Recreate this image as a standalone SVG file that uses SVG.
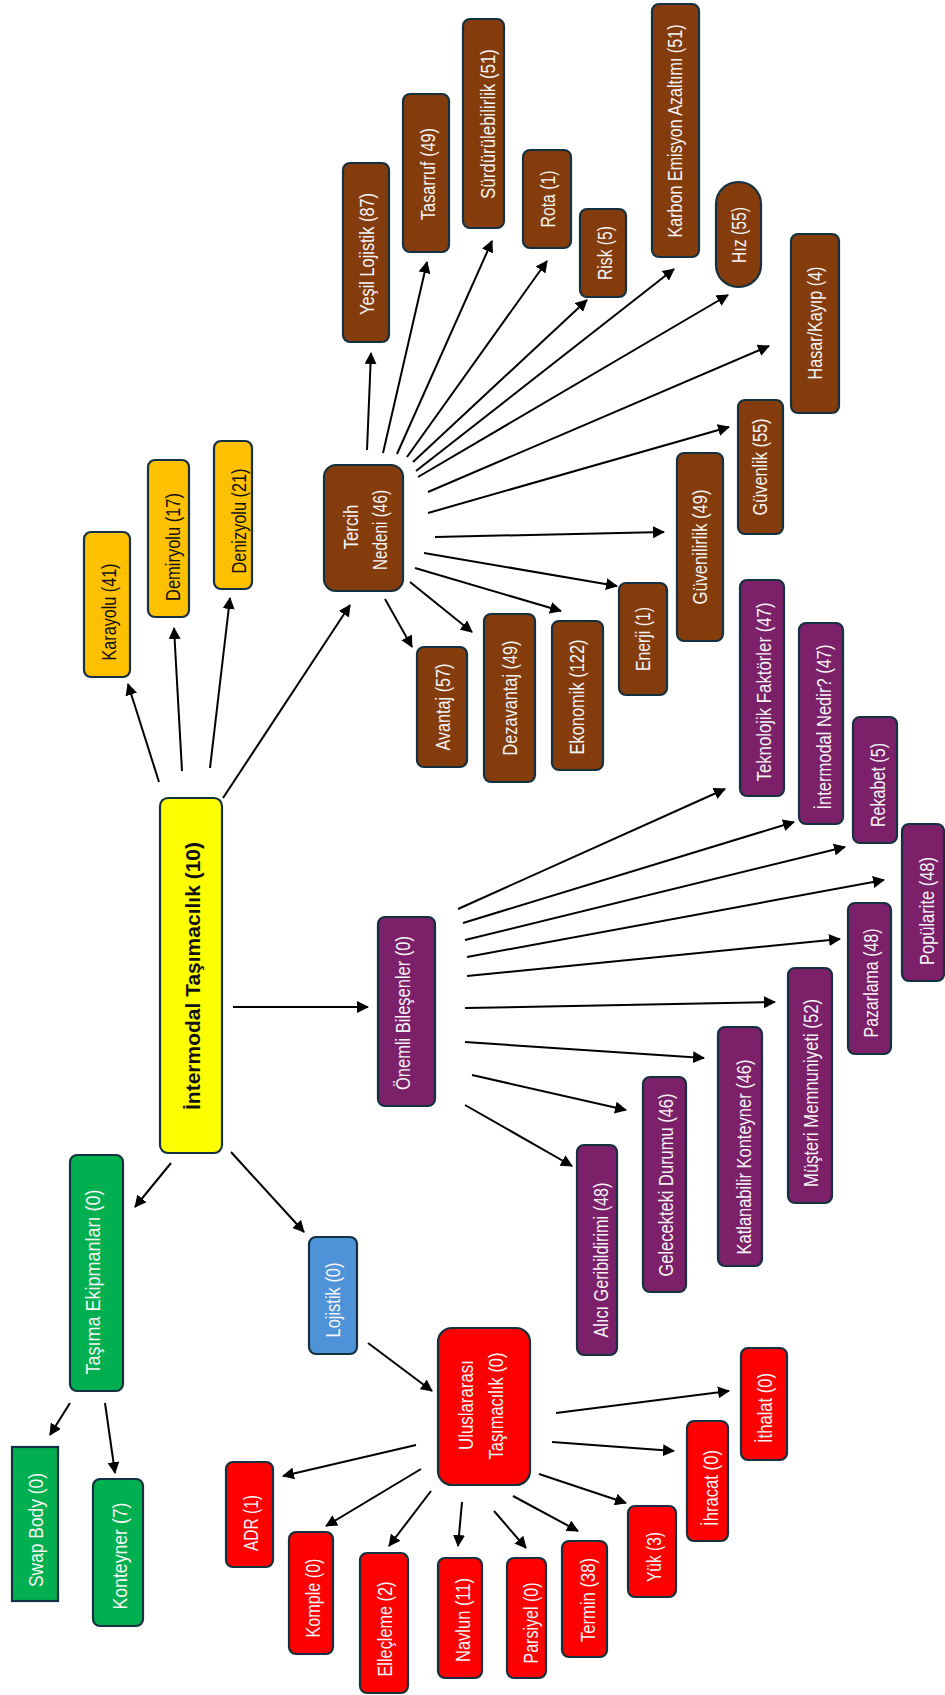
<svg xmlns="http://www.w3.org/2000/svg" width="945" height="1695" viewBox="0 0 945 1695">
<style>
rect{stroke:#15303e;stroke-width:2.2}
.b{fill:#843C0C}.p{fill:#7B2069}.o{fill:#FFC000}.r{fill:#FF0000}.g{fill:#00B050}.bl{fill:#4E93D7}.y{fill:#FFFF00}
text{font-family:"Liberation Sans Narrow","Arial Narrow","Liberation Sans",Arial,sans-serif;font-size:19.5px;text-anchor:middle}
.w{fill:#f4f4f4}.k{fill:#111}
.t{font-family:"Liberation Sans",Arial,sans-serif;font-weight:bold;font-size:21px;fill:#111}
#conn path{stroke:#000;stroke-width:2;fill:none;marker-end:url(#ah)}
</style>
<defs>
<marker id="ah" markerUnits="userSpaceOnUse" markerWidth="12" markerHeight="12" refX="11" refY="6" orient="auto">
<path d="M0,0 L12,6 L0,12 z" fill="#000"/>
</marker>
</defs>
<g id="conn">
<path d="M159,782 L128,684"/>
<path d="M182,771 L174,628"/>
<path d="M210,768 L230,598"/>
<path d="M223,798 L350,605"/>
<path d="M233,1007 L368,1007"/>
<path d="M171,1163 L135,1207"/>
<path d="M231,1152 L304,1232"/>
<path d="M367,450 L371,353"/>
<path d="M383,453 L427,262"/>
<path d="M397,454 L492,241"/>
<path d="M407,457 L547,261"/>
<path d="M413,462 L587,300"/>
<path d="M416,471 L674,269"/>
<path d="M418,477 L728,295"/>
<path d="M428,492 L769,346"/>
<path d="M428,513 L729,427"/>
<path d="M435,537 L664,532"/>
<path d="M424,553 L617,586"/>
<path d="M415,568 L561,611"/>
<path d="M410,582 L472,632"/>
<path d="M385,599 L412,647"/>
<path d="M458,909 L725,789"/>
<path d="M463,923 L794,822"/>
<path d="M465,940 L845,847"/>
<path d="M467,957 L884,880"/>
<path d="M467,976 L840,939"/>
<path d="M465,1008 L775,1002"/>
<path d="M465,1042 L704,1058"/>
<path d="M472,1075 L626,1110"/>
<path d="M465,1105 L572,1166"/>
<path d="M70,1403 L50,1435"/>
<path d="M105,1403 L115,1473"/>
<path d="M368,1343 L432,1391"/>
<path d="M416,1445 L283,1476"/>
<path d="M421,1469 L326,1526"/>
<path d="M431,1491 L389,1546"/>
<path d="M462,1502 L458,1546"/>
<path d="M494,1511 L526,1548"/>
<path d="M513,1496 L578,1531"/>
<path d="M539,1474 L626,1503"/>
<path d="M552,1442 L674,1451"/>
<path d="M556,1413 L729,1391"/>
</g>
<g id="main"><rect class="y" x="160" y="798" width="62" height="355" rx="8"/><text class="t" transform="translate(200,976) rotate(-90)" textLength="268" lengthAdjust="spacingAndGlyphs">İntermodal Taşımacılık (10)</text></g>
<g id="karayolu"><rect class="o" x="84" y="532" width="46" height="145" rx="7"/><text class="k" transform="translate(116,612) rotate(-90)" textLength="97" lengthAdjust="spacingAndGlyphs">Karayolu (41)</text></g>
<g id="demiryolu"><rect class="o" x="148" y="460" width="41" height="157" rx="7"/><text class="k" transform="translate(180,547) rotate(-90)" textLength="108" lengthAdjust="spacingAndGlyphs">Demiryolu (17)</text></g>
<g id="denizyolu"><rect class="o" x="214" y="441" width="38" height="148" rx="7"/><text class="k" transform="translate(246,521) rotate(-90)" textLength="105" lengthAdjust="spacingAndGlyphs">Denizyolu (21)</text></g>
<g id="tercih"><rect class="b" x="324" y="465" width="79" height="126" rx="12"/><text class="w" transform="translate(358,527) rotate(-90)" textLength="45" lengthAdjust="spacingAndGlyphs">Tercih</text><text class="w" transform="translate(387,530) rotate(-90)" textLength="80" lengthAdjust="spacingAndGlyphs">Nedeni (46)</text></g>
<g id="yesil"><rect class="b" x="343" y="163" width="46" height="179" rx="7"/><text class="w" transform="translate(374,254) rotate(-90)" textLength="122" lengthAdjust="spacingAndGlyphs">Yeşil Lojistik (87)</text></g>
<g id="tasarruf"><rect class="b" x="403" y="94" width="46" height="158" rx="7"/><text class="w" transform="translate(435,174) rotate(-90)" textLength="92" lengthAdjust="spacingAndGlyphs">Tasarruf (49)</text></g>
<g id="surdurulebilirlik"><rect class="b" x="463" y="19" width="41" height="209" rx="7"/><text class="w" transform="translate(495,124) rotate(-90)" textLength="150" lengthAdjust="spacingAndGlyphs">Sürdürülebilirlik (51)</text></g>
<g id="rota"><rect class="b" x="523" y="150" width="48" height="98" rx="7"/><text class="w" transform="translate(555,199) rotate(-90)" textLength="57" lengthAdjust="spacingAndGlyphs">Rota (1)</text></g>
<g id="risk"><rect class="b" x="580" y="209" width="46" height="88" rx="7"/><text class="w" transform="translate(612,253) rotate(-90)" textLength="54" lengthAdjust="spacingAndGlyphs">Risk (5)</text></g>
<g id="karbon"><rect class="b" x="652" y="4" width="47" height="253" rx="7"/><text class="w" transform="translate(682,131) rotate(-90)" textLength="213" lengthAdjust="spacingAndGlyphs">Karbon Emisyon Azaltımı (51)</text></g>
<g id="hiz"><rect class="b" x="716" y="182" width="45" height="105" rx="22"/><text class="w" transform="translate(746,235) rotate(-90)" textLength="56" lengthAdjust="spacingAndGlyphs">Hız (55)</text></g>
<g id="hasar"><rect class="b" x="791" y="234" width="48" height="179" rx="7"/><text class="w" transform="translate(822,323) rotate(-90)" textLength="113" lengthAdjust="spacingAndGlyphs">Hasar/Kayıp (4)</text></g>
<g id="guvenlik"><rect class="b" x="738" y="400" width="45" height="134" rx="7"/><text class="w" transform="translate(767,467) rotate(-90)" textLength="97" lengthAdjust="spacingAndGlyphs">Güvenlik (55)</text></g>
<g id="guvenilirlik"><rect class="b" x="677" y="453" width="46" height="188" rx="7"/><text class="w" transform="translate(707,547) rotate(-90)" textLength="115" lengthAdjust="spacingAndGlyphs">Güvenilirlik (49)</text></g>
<g id="enerji"><rect class="b" x="619" y="583" width="48" height="112" rx="7"/><text class="w" transform="translate(650,639) rotate(-90)" textLength="64" lengthAdjust="spacingAndGlyphs">Enerji (1)</text></g>
<g id="ekonomik"><rect class="b" x="552" y="621" width="51" height="149" rx="7"/><text class="w" transform="translate(584,697) rotate(-90)" textLength="115" lengthAdjust="spacingAndGlyphs">Ekonomik (122)</text></g>
<g id="dezavantaj"><rect class="b" x="484" y="614" width="51" height="168" rx="7"/><text class="w" transform="translate(517,698) rotate(-90)" textLength="115" lengthAdjust="spacingAndGlyphs">Dezavantaj (49)</text></g>
<g id="avantaj"><rect class="b" x="417" y="647" width="50" height="120" rx="7"/><text class="w" transform="translate(450,707) rotate(-90)" textLength="87" lengthAdjust="spacingAndGlyphs">Avantaj (57)</text></g>
<g id="onemli"><rect class="p" x="378" y="917" width="57" height="189" rx="7"/><text class="w" transform="translate(410,1013) rotate(-90)" textLength="154" lengthAdjust="spacingAndGlyphs">Önemli Bileşenler (0)</text></g>
<g id="teknolojik"><rect class="p" x="740" y="580" width="44" height="216" rx="7"/><text class="w" transform="translate(771,692) rotate(-90)" textLength="179" lengthAdjust="spacingAndGlyphs">Teknolojik Faktörler (47)</text></g>
<g id="nedir"><rect class="p" x="799" y="623" width="44" height="201" rx="7"/><text class="w" transform="translate(831,727) rotate(-90)" textLength="165" lengthAdjust="spacingAndGlyphs">İntermodal Nedir? (47)</text></g>
<g id="rekabet"><rect class="p" x="853" y="717" width="44" height="126" rx="7"/><text class="w" transform="translate(885,785) rotate(-90)" textLength="84" lengthAdjust="spacingAndGlyphs">Rekabet (5)</text></g>
<g id="popularite"><rect class="p" x="902" y="824" width="42" height="157" rx="7"/><text class="w" transform="translate(934,911) rotate(-90)" textLength="108" lengthAdjust="spacingAndGlyphs">Popülarite (48)</text></g>
<g id="pazarlama"><rect class="p" x="848" y="903" width="43" height="151" rx="7"/><text class="w" transform="translate(878,983) rotate(-90)" textLength="109" lengthAdjust="spacingAndGlyphs">Pazarlama (48)</text></g>
<g id="musteri"><rect class="p" x="788" y="968" width="44" height="235" rx="7"/><text class="w" transform="translate(818,1093) rotate(-90)" textLength="188" lengthAdjust="spacingAndGlyphs">Müşteri Memnuniyeti (52)</text></g>
<g id="katlanabilir"><rect class="p" x="718" y="1027" width="44" height="239" rx="7"/><text class="w" transform="translate(751,1157) rotate(-90)" textLength="195" lengthAdjust="spacingAndGlyphs">Katlanabilir Konteyner (46)</text></g>
<g id="gelecek"><rect class="p" x="643" y="1077" width="43" height="215" rx="7"/><text class="w" transform="translate(673,1185) rotate(-90)" textLength="183" lengthAdjust="spacingAndGlyphs">Gelecekteki Durumu (46)</text></g>
<g id="alici"><rect class="p" x="577" y="1145" width="40" height="210" rx="7"/><text class="w" transform="translate(608,1260) rotate(-90)" textLength="155" lengthAdjust="spacingAndGlyphs">Alıcı Geribildirimi (48)</text></g>
<g id="tasima"><rect class="g" x="70" y="1155" width="53" height="236" rx="7"/><text class="w" transform="translate(100,1282) rotate(-90)" textLength="185" lengthAdjust="spacingAndGlyphs">Taşıma Ekipmanları (0)</text></g>
<g id="swap"><rect class="g" x="12" y="1447" width="46" height="154"/><text class="w" transform="translate(43,1530) rotate(-90)" textLength="114" lengthAdjust="spacingAndGlyphs">Swap Body (0)</text></g>
<g id="konteyner"><rect class="g" x="93" y="1479" width="50" height="147" rx="7"/><text class="w" transform="translate(126.5,1556) rotate(-90)" textLength="107" lengthAdjust="spacingAndGlyphs">Konteyner (7)</text></g>
<g id="lojistik"><rect class="bl" x="309" y="1237" width="48" height="117" rx="7"/><text class="w" transform="translate(340,1300) rotate(-90)" textLength="75" lengthAdjust="spacingAndGlyphs">Lojistik (0)</text></g>
<g id="uluslararasi"><rect class="r" x="438" y="1328" width="92" height="157" rx="14"/><text class="w" transform="translate(473,1405) rotate(-90)" textLength="90" lengthAdjust="spacingAndGlyphs">Uluslararası</text><text class="w" transform="translate(503,1406) rotate(-90)" textLength="107" lengthAdjust="spacingAndGlyphs">Taşımacılık (0)</text></g>
<g id="adr"><rect class="r" x="226" y="1462" width="47" height="105" rx="7"/><text class="w" transform="translate(258,1523) rotate(-90)" textLength="56" lengthAdjust="spacingAndGlyphs">ADR (1)</text></g>
<g id="komple"><rect class="r" x="289" y="1532" width="44" height="122" rx="7"/><text class="w" transform="translate(320,1598) rotate(-90)" textLength="79" lengthAdjust="spacingAndGlyphs">Komple (0)</text></g>
<g id="ellecleme"><rect class="r" x="360" y="1553" width="48" height="140" rx="7"/><text class="w" transform="translate(391.5,1629) rotate(-90)" textLength="95" lengthAdjust="spacingAndGlyphs">Elleçleme (2)</text></g>
<g id="navlun"><rect class="r" x="438" y="1558" width="44" height="120" rx="7"/><text class="w" transform="translate(470,1620) rotate(-90)" textLength="84" lengthAdjust="spacingAndGlyphs">Navlun (11)</text></g>
<g id="parsiyel"><rect class="r" x="507" y="1558" width="39" height="120" rx="7"/><text class="w" transform="translate(538,1623) rotate(-90)" textLength="81" lengthAdjust="spacingAndGlyphs">Parsiyel (0)</text></g>
<g id="termin"><rect class="r" x="562" y="1541" width="45" height="116" rx="7"/><text class="w" transform="translate(595,1600) rotate(-90)" textLength="84" lengthAdjust="spacingAndGlyphs">Termin (38)</text></g>
<g id="yuk"><rect class="r" x="628" y="1506" width="48" height="91" rx="7"/><text class="w" transform="translate(660.5,1557) rotate(-90)" textLength="50" lengthAdjust="spacingAndGlyphs">Yük (3)</text></g>
<g id="ihracat"><rect class="r" x="687" y="1421" width="41" height="120" rx="7"/><text class="w" transform="translate(718,1488) rotate(-90)" textLength="76" lengthAdjust="spacingAndGlyphs">İhracat (0)</text></g>
<g id="ithalat"><rect class="r" x="741" y="1348" width="46" height="112" rx="7"/><text class="w" transform="translate(771.5,1408) rotate(-90)" textLength="70" lengthAdjust="spacingAndGlyphs">İthalat (0)</text></g>
</svg>
